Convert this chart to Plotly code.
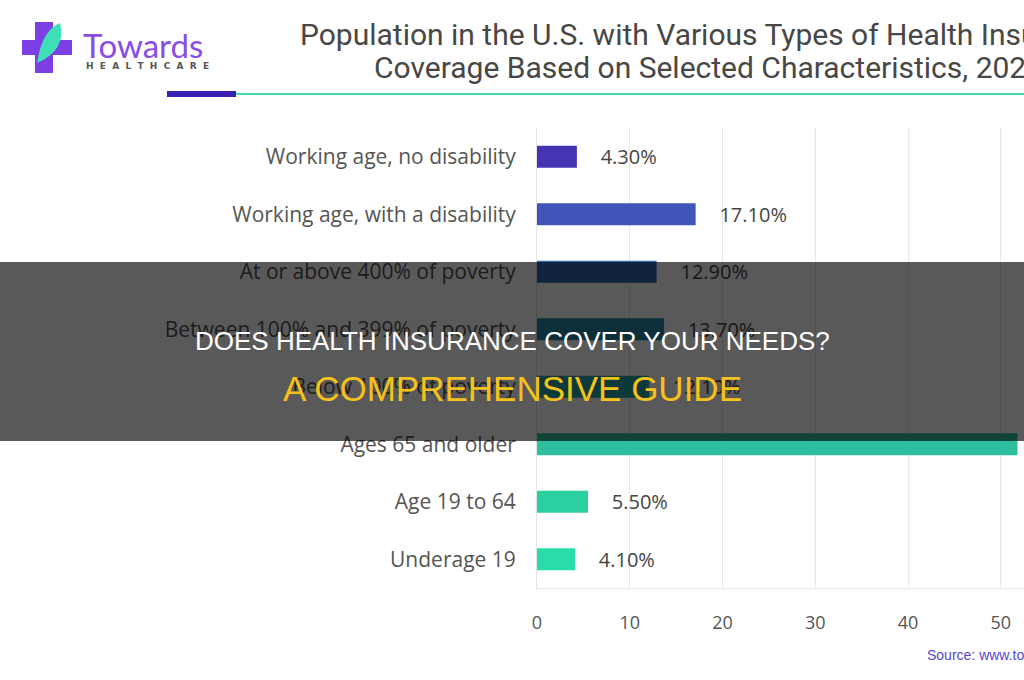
import plotly.graph_objects as go

W, H = 1024, 680

categories = [
    "Working age, no disability",
    "Working age, with a disability",
    "At or above 400% of poverty",
    "Between 100% and 399% of poverty",
    "Below 100% of poverty",
    "Ages 65 and older",
    "Age 19 to 64",
    "Underage 19",
]
values = [4.3, 17.1, 12.9, 13.7, 12.1, 51.8, 5.5, 4.1]
bar_colors = ["#4535b5", "#3f56b8", "#2f6bb0", "#2386a6", "#25a3a0", "#2dbf9f", "#2ccf9f", "#28dda8"]
x_ticks = [0, 10, 20, 30, 40, 50]

title_line1 = "Population in the U.S. with Various Types of Health Insurance"
title_line2 = "Coverage Based on Selected Characteristics, 2023"
banner_line1 = "DOES HEALTH INSURANCE COVER YOUR NEEDS?"
banner_line2 = "A COMPREHENSIVE GUIDE"
source_text = "Source: www.towardshealthcare.com"


def px(x):
    return x / W


def py(y):
    return 1 - y / H


NB = "\u00a0"

fig = go.Figure()
fig.add_trace(go.Bar(
    y=categories,
    x=values,
    orientation="h",
    marker=dict(color=bar_colors, line=dict(width=0)),
    width=0.38,
    texttemplate=NB * 4 + "%{x:.2f}%",
    textposition="outside",
    constraintext="none",
    cliponaxis=True,
    textfont=dict(family="Open Sans", size=20, color="#454545"),
    hoverinfo="skip",
))

shapes = []
# logo cross
shapes.append(dict(type="rect", xref="paper", yref="paper", x0=px(35), x1=px(53), y0=py(73), y1=py(22),
                   fillcolor="#7b3fe3", line=dict(width=0), layer="above"))
shapes.append(dict(type="rect", xref="paper", yref="paper", x0=px(22), x1=px(72), y0=py(55), y1=py(40),
                   fillcolor="#7b3fe3", line=dict(width=0), layer="above"))
# leaf
leaf = ("M {a},{b} Q {c},{d} {e},{f} Q {g},{h} {a},{b} Z").format(
    a=px(37), b=py(63), c=px(42), d=py(30), e=px(60), f=py(23),
    g=px(67), h=py(50))
shapes.append(dict(type="path", xref="paper", yref="paper", path=leaf,
                   fillcolor="#3ddfb6", line=dict(width=0), layer="above"))
# title underline
shapes.append(dict(type="rect", xref="paper", yref="paper", x0=px(236), x1=px(1024), y0=py(95), y1=py(93),
                   fillcolor="#3fd8aa", line=dict(width=0), layer="above"))
shapes.append(dict(type="rect", xref="paper", yref="paper", x0=px(167), x1=px(236), y0=py(97), y1=py(91),
                   fillcolor="#3a20b2", line=dict(width=0), layer="above"))
# dark banner
shapes.append(dict(type="rect", xref="paper", yref="paper", x0=0, x1=1, y0=py(441), y1=py(262),
                   fillcolor="rgba(0,0,0,0.65)", line=dict(width=0), layer="above"))

healthcare = (NB * 2).join("HEALTHCARE")

annotations = [
    dict(text="Towards", x=px(81), y=py(45), xref="paper", yref="paper", xanchor="left", yanchor="middle",
         showarrow=False, font=dict(family="Lato", size=33, color="#8a4ce6")),
    dict(text="<b>" + healthcare + "</b>", x=px(84), y=py(66), xref="paper", yref="paper", xanchor="left",
         yanchor="middle", showarrow=False, font=dict(family="DejaVu Sans", size=9, color="#555555")),
    dict(text=title_line1, x=px(706), y=py(34), xref="paper", yref="paper", xanchor="center",
         yanchor="middle", showarrow=False, font=dict(family="Roboto", size=30, color="#474747")),
    dict(text=title_line2, x=px(708), y=py(68), xref="paper", yref="paper", xanchor="center",
         yanchor="middle", showarrow=False, font=dict(family="Roboto", size=30, color="#474747")),
    dict(text=source_text, x=px(925), y=py(655), xref="paper", yref="paper", xanchor="left",
         yanchor="middle", showarrow=False, font=dict(family="Liberation Sans", size=14, color="#5546c8")),
    dict(text=banner_line1, x=0.5, y=py(341), xref="paper", yref="paper", xanchor="center",
         yanchor="middle", showarrow=False, font=dict(family="Liberation Sans", size=26, color="#ffffff")),
    dict(text=banner_line2, x=0.5, y=py(388), xref="paper", yref="paper", xanchor="center",
         yanchor="middle", showarrow=False, font=dict(family="Liberation Sans", size=35, color="#f5c21b")),
]

fig.update_layout(
    width=W, height=H,
    margin=dict(l=0, r=0, t=0, b=0, autoexpand=False),
    paper_bgcolor="white", plot_bgcolor="white",
    showlegend=False,
    shapes=shapes,
    annotations=annotations,
    xaxis=dict(domain=[px(537), 1], range=[0, 52.5], tickvals=x_ticks, showgrid=True,
               gridcolor="#e8e8e8", gridwidth=1, zeroline=False, showline=True, linecolor="#e4e4e4",
               ticks="", ticklabelstandoff=18, automargin=False,
               tickfont=dict(family="Open Sans", size=18, color="#555555")),
    yaxis=dict(domain=[py(588), py(128)], categoryorder="array", categoryarray=categories[::-1],
               autorange=False, range=[-0.5, 7.5], showgrid=False, zeroline=False,
               showline=True, linecolor="#e4e4e4", ticks="", ticklabelstandoff=16, automargin=False,
               tickfont=dict(family="Open Sans", size=21, color="#555555")),
    bargap=0.6,
)

fig.write_html("out.html")
